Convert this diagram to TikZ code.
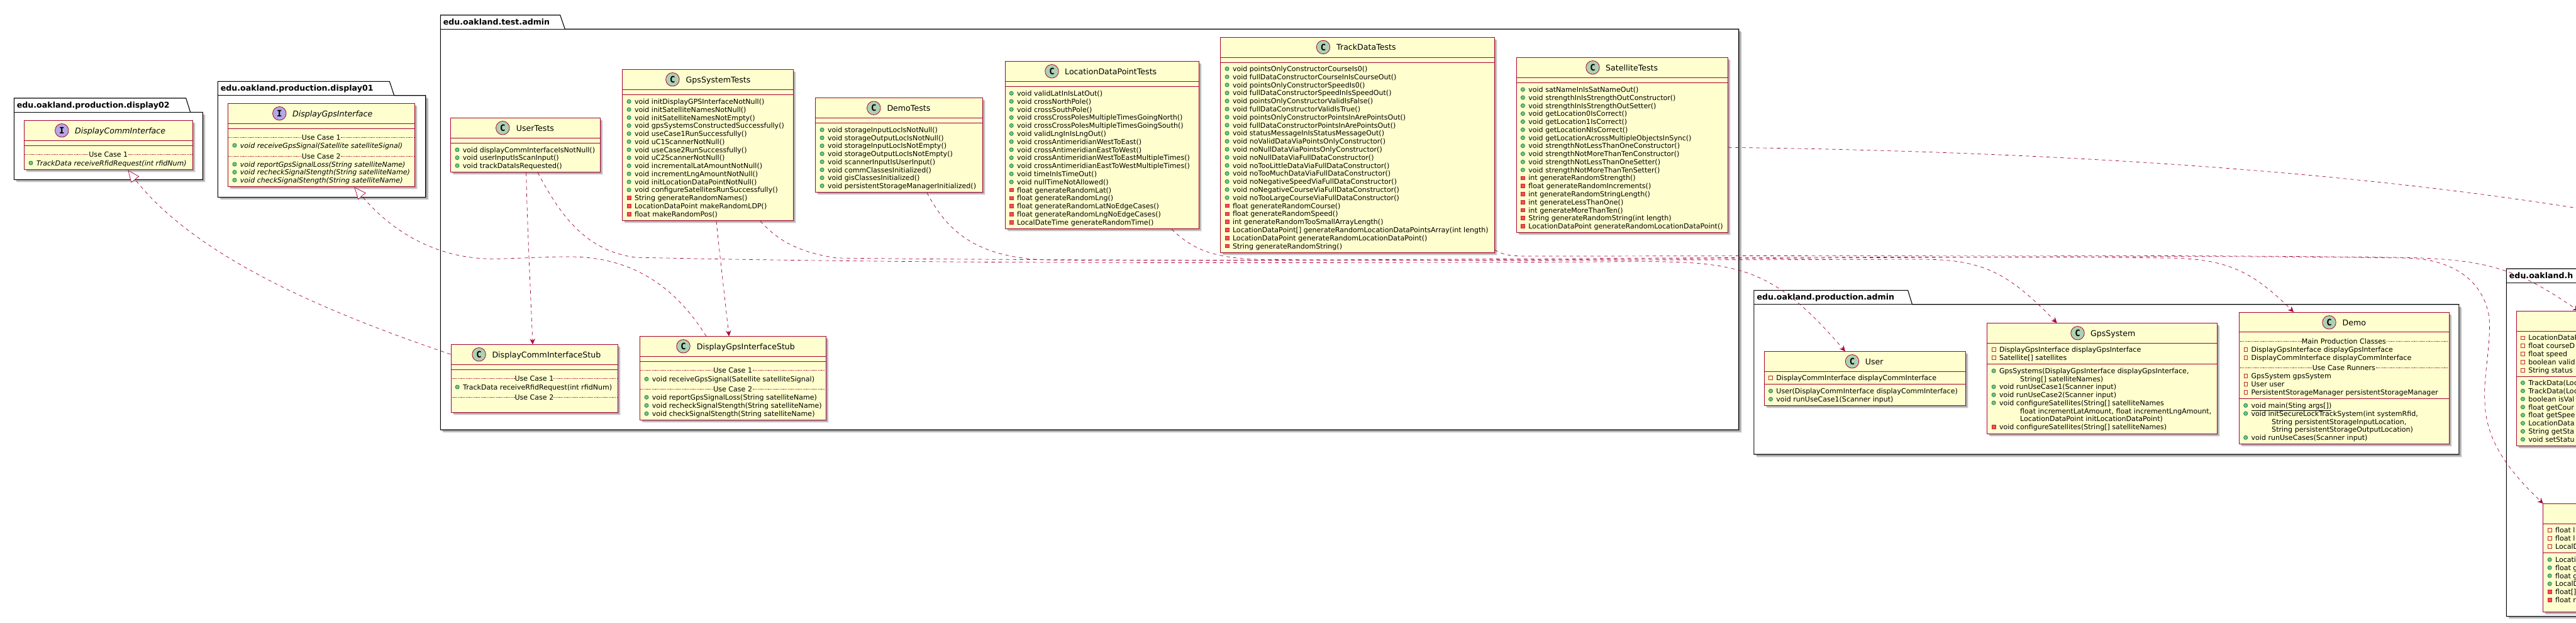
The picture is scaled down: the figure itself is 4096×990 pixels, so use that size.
\documentclass[tikz,border=0pt]{standalone}
\usepackage{fontspec}
\usetikzlibrary{arrows.meta}
\setmainfont{DejaVu Sans}
\newfontfamily\spotfont{DejaVu Sans Mono}
\definecolor{umlline}{HTML}{A80036}
\definecolor{umlfill}{HTML}{FEFECE}
\definecolor{spotc}{HTML}{ADD1B2}
\definecolor{spoti}{HTML}{B4A7E5}
\definecolor{pubfill}{HTML}{84BE84}
\definecolor{publine}{HTML}{038048}
\definecolor{prifill}{HTML}{F24D5C}
\definecolor{priline}{HTML}{C82930}
\newcommand{\rowfont}{\fontsize{11.06}{13}\selectfont}
\tikzset{
  classrect/.style={draw=umlline,fill=umlfill,line width=1pt,rectangle,inner sep=0pt,anchor=north west},
  sect/.style={draw=umlline,line width=1pt},
  rowt/.style={anchor=base west,inner sep=0pt,font=\rowfont,text=black},
  titlet/.style={anchor=base west,inner sep=0pt,font=\fontsize{12.6}{14}\selectfont,text=black},
  pkgt/.style={anchor=base west,inner sep=0pt,font=\fontsize{12.6}{14}\selectfont\bfseries,text=black},
  sept/.style={anchor=base,inner sep=0pt,fill=umlfill,font=\rowfont,text=black},
  spotn/.style={circle,draw=umlline,line width=.8pt,minimum size=21.5pt,inner sep=0pt,font=\spotfont\fontsize{14}{14}\selectfont\bfseries,text=black},
  dep/.style={draw=umlline,line width=.7pt,dash pattern=on 5.5pt off 5.5pt},
  arrowdep/.style={dep,-{Stealth[length=9pt,width=8.5pt,inset=3pt,fill=umlline]}},
  realdep/.style={dep,-{Triangle[open,length=19pt,width=16pt,fill=white]}}
}
\newcounter{rw}
\newcommand{\cbox}[8]{% name,L,T,R,B,H,S,kind
  \gdef\cl{#2}\gdef\cr{#4}%
  \foreach \o/\a in {5/.08,4/.12,3/.16}{\fill[black,opacity=\a] (#2+\o,#3+\o) rectangle (#4+\o,#5+\o);}%
  \pgfmathsetmacro\cw{#4-#2}\pgfmathsetmacro\ch{#5-#3}%
  \node[classrect,minimum width=\cw pt,minimum height=\ch pt,name=#1] at (#2,#3) {};%
  \draw[sect] (#2,#6) -- (#4,#6);%
  \draw[sect] (#2,#7) -- (#4,#7);%
}
\newcommand{\spot}[5]{% name,x,y,color,letter
  \node[spotn,fill=#4,name=#1] at (#2,#3) {#5};}
\newcommand{\ttl}[4]{\node[titlet,name=#1] at (#2,#3+5) {#4};}
\newcommand{\rows}[2]{\gdef\ry{#1}\gdef\rs{#2}}
\newcommand{\adv}{\pgfmathparse{\ry+\rs}\xdef\ry{\pgfmathresult}}
\newcommand{\rowtxt}[2]{\stepcounter{rw}\node[rowt,name=r\therw] at (\cl+#1,\ry+4.2) {#2};}
\newcommand{\pub}[1]{\draw[fill=pubfill,draw=publine,line width=.7pt] (\cl+10.7,\ry) circle[radius=3.1pt];\rowtxt{19.4}{#1}\adv}
\newcommand{\pri}[1]{\draw[fill=prifill,draw=priline,line width=.7pt] (\cl+7.9,\ry-2.8) rectangle (\cl+13.5,\ry+2.8);\rowtxt{19.4}{#1}\adv}
\newcommand{\fld}[1]{\draw[draw=priline,line width=.7pt] (\cl+7.9,\ry-2.8) rectangle (\cl+13.5,\ry+2.8);\rowtxt{19.4}{#1}\adv}
\newcommand{\ind}[2]{\rowtxt{#1}{#2}\adv}
\newcommand{\usep}[2]{% y, text
  \draw[draw=umlline,line width=.5pt,dash pattern=on 1.2pt off 1.2pt] (\cl,#1) -- (\cr,#1);
  \stepcounter{rw}\pgfmathsetmacro\cm{(\cl+\cr)/2}%
  \node[sept,name=r\therw] at (\cm,#1+4.2) {#2};}
\newcommand{\pkg}[9]{% name,L,TT,TB,R,B,tab1,tab2,label
  \foreach \o/\a in {5/.08,4/.12,3/.16}{\fill[black,opacity=\a,shift={(\o pt,-\o pt)}] (#2,#4) -- (#5,#4) -- (#5,#6) -- (#2,#6) -- cycle;}%
  \draw[black,line width=1.1pt,fill=white] (#2,#6) -- (#2,#3) -- (#7,#3) -- (#8,#4) -- (#5,#4) -- (#5,#6) -- cycle;%
  \draw[black,line width=1.1pt] (#2,#4) -- (#8,#4);%
  \node[pkgt,name=#1] at (#2+4.4,#4-7.2) {#9};}
\begin{document}
\begin{tikzpicture}[x=1pt,y=-1pt]
\useasboundingbox (0,0) rectangle (4096,990);
\fill[white] (0,0) rectangle (4096,990);
\begin{scope}
\clip (0,0) rectangle (4096,990);
% packages
\pkg{pDisplay02}{22.3}{156}{178.3}{322.3}{285.3}{295.7}{302.7}{edu.oakland.production.display02}
\pkg{pDisplay01}{346.3}{129.3}{151.7}{676.7}{313.3}{619.3}{626.7}{edu.oakland.production.display01}
\pkg{pTest}{700.3}{24}{46.3}{2764.7}{683}{890.7}{898.3}{edu.oakland.test.admin}
\pkg{pAdmin}{2788.9}{461.3}{483.7}{3909.8}{722}{3033.6}{3040.5}{edu.oakland.production.admin}
\pkg{pHelper}{3985.3}{427}{449.3}{4400}{979.3}{4300}{4307}{edu.oakland.h}

% DisplayCommInterface
\cbox{DisplayCommInterface}{38.3}{191.3}{306.3}{269.3}{223.3}{231.3}{i}
\spot{sDCI}{98.3}{207.3}{spoti}{I}
\ttl{tDCI}{119}{207.3}{\itshape DisplayCommInterface}
\usep{245.3}{Use Case 1}
\rows{259}{12.8}
\pub{\itshape TrackData receiveRfidRequest(int rfidNum)}

% DisplayGpsInterface
\cbox{DisplayGpsInterface}{362.3}{164.3}{659.3}{296.3}{196.7}{204.7}{i}
\spot{sDGI}{444.3}{180.3}{spoti}{I}
\ttl{tDGI}{465}{180.3}{\itshape DisplayGpsInterface}
\usep{218.3}{Use Case 1}
\rows{231}{12.8}
\pub{\itshape void receiveGpsSignal(Satellite satelliteSignal)}
\usep{248}{Use Case 2}
\rows{261}{12.6}
\pub{\itshape void reportGpsSignalLoss(String satelliteName)}
\pub{\itshape void recheckSignalStength(String satelliteName)}
\pub{\itshape void checkSignalStength(String satelliteName)}

% UserTests
\cbox{UserTests}{716.3}{187.3}{954.4}{273.3}{219}{227.3}{c}
\spot{sUT}{799.3}{203.3}{spotc}{C}
\ttl{tUT}{820.7}{203.3}{UserTests}
\rows{238}{12.6}
\pub{void displayCommInterfaceIsNotNull()}
\pub{void userInputIsScanInput()}
\pub{void trackDataIsRequested()}

% GpsSystemTests
\cbox{GpsSystemTests}{989.4}{110.3}{1261.4}{350.3}{142.3}{150.3}{c}
\spot{sGT}{1069.4}{126.3}{spotc}{C}
\ttl{tGT}{1090.5}{126.3}{GpsSystemTests}
\rows{161.3}{12.77}
\pub{void initDisplayGPSInterfaceNotNull()}
\pub{void initSatelliteNamesNotNull()}
\pub{void initSatelliteNamesNotEmpty()}
\pub{void gpsSystemsConstructedSuccessfully()}
\pub{void useCase1RunSuccessfully()}
\pub{void uC1ScannerNotNull()}
\pub{void useCase2RunSuccessfully()}
\pub{void uC2ScannerNotNull()}
\pub{void incrementalLatAmountNotNull()}
\pub{void incrementLngAmountNotNull()}
\pub{void initLocationDataPointNotNull()}
\pub{void configureSatellitesRunSuccessfully()}
\pri{String generateRandomNames()}
\pri{LocationDataPoint makeRandomLDP()}
\pri{float makeRandomPos()}

% DemoTests
\cbox{DemoTests}{1296.4}{155.3}{1561.5}{305.3}{187.3}{195.3}{c}
\spot{sDT}{1389.3}{171.7}{spotc}{C}
\ttl{tDT}{1410.3}{171.7}{DemoTests}
\rows{206.3}{12.71}
\pub{void storageInputLocIsNotNull()}
\pub{void storageOutputLocIsNotNull()}
\pub{void storageInputLocIsNotEmpty()}
\pub{void storageOutputLocIsNotEmpty()}
\pub{void scannerInputIsUserInput()}
\pub{void commClassesInitialized()}
\pub{void gisClassesInitialized()}
\pub{void persistentStorageManagerInitialized()}

% LocationDataPointTests
\cbox{LocationDataPointTests}{1597.5}{97.3}{1905.5}{363.3}{129.3}{137.3}{c}
\spot{sLT}{1672.5}{113.3}{spotc}{C}
\ttl{tLT}{1693}{113.3}{LocationDataPointTests}
\rows{148.3}{12.8}
\pub{void validLatInIsLatOut()}
\pub{void crossNorthPole()}
\pub{void crossSouthPole()}
\pub{void crossCrossPolesMultipleTimesGoingNorth()}
\pub{void crossCrossPolesMultipleTimesGoingSouth()}
\pub{void validLngInIsLngOut()}
\pub{void crossAntimeridianWestToEast()}
\pub{void crossAntimeridianEastToWest()}
\pub{void crossAntimeridianWestToEastMultipleTimes()}
\pub{void crossAntimeridianEastToWestMultipleTimes()}
\pub{void timeInIsTimeOut()}
\pub{void nullTimeNotAllowed()}
\pri{float generateRandomLat()}
\pri{float generateRandomLng()}
\pri{float generateRandomLatNoEdgeCases()}
\pri{float generateRandomLngNoEdgeCases()}
\pri{LocalDateTime generateRandomTime()}

% TrackDataTests
\cbox{TrackDataTests}{1940.4}{59.3}{2375.6}{401}{91}{99.3}{c}
\spot{sTT}{2104}{75}{spotc}{C}
\ttl{tTT}{2125}{75}{TrackDataTests}
\rows{109.3}{12.8}
\pub{void pointsOnlyConstructorCourseIs0()}
\pub{void fullDataConstructorCourseInIsCourseOut()}
\pub{void pointsOnlyConstructorSpeedIs0()}
\pub{void fullDataConstructorSpeedInIsSpeedOut()}
\pub{void pointsOnlyConstructorValidIsFalse()}
\pub{void fullDataConstructorValidIsTrue()}
\pub{void pointsOnlyConstructorPointsInArePointsOut()}
\pub{void fullDataConstructorPointsInArePointsOut()}
\pub{void statusMessageInIsStatusMessageOut()}
\pub{void noValidDataViaPointsOnlyConstructor()}
\pub{void noNullDataViaPointsOnlyConstructor()}
\pub{void noNullDataViaFullDataConstructor()}
\pub{void noTooLittleDataViaFullDataConstructor()}
\pub{void noTooMuchDataViaFullDataConstructor()}
\pub{void noNegativeSpeedViaFullDataConstructor()}
\pub{void noNegativeCourseViaFullDataConstructor()}
\pub{void noTooLargeCourseViaFullDataConstructor()}
\pri{float generateRandomCourse()}
\pri{float generateRandomSpeed()}
\pri{int generateRandomTooSmallArrayLength()}
\pri{LocationDataPoint[] generateRandomLocationDataPointsArray(int length)}
\pri{LocationDataPoint generateRandomLocationDataPoint()}
\pri{String generateRandomString()}

% SatelliteTests
\cbox{SatelliteTests}{2410.7}{91.3}{2747.4}{369.3}{123.3}{131.7}{c}
\spot{sST}{2532.5}{107.3}{spotc}{C}
\ttl{tST}{2553}{107.3}{SatelliteTests}
\rows{142.3}{12.77}
\pub{void satNameInIsSatNameOut()}
\pub{void strengthInIsStrengthOutConstructor()}
\pub{void strengthInIsStrengthOutSetter()}
\pub{void getLocation0IsCorrect()}
\pub{void getLocation1IsCorrect()}
\pub{void getLocationNIsCorrect()}
\pub{void getLocationAcrossMultipleObjectsInSync()}
\pub{void strengthNotLessThanOneConstructor()}
\pub{void strengthNotMoreThanTenConstructor()}
\pub{void strengthNotLessThanOneSetter()}
\pub{void strengthNotMoreThanTenSetter()}
\pri{int generateRandomStrength()}
\pri{float generateRandomIncrements()}
\pri{int generateRandomStringLength()}
\pri{int generateLessThanOne()}
\pri{int generateMoreThanTen()}
\pri{String generateRandomString(int length)}
\pri{LocationDataPoint generateRandomLocationDataPoint()}

% DisplayCommInterfaceStub
\cbox{DisplayCommInterfaceStub}{716.5}{547.3}{982.4}{654.7}{579}{587.3}{c}
\spot{sCS}{761.6}{563.3}{spotc}{C}
\ttl{tCS}{782.3}{563.3}{DisplayCommInterfaceStub}
\usep{601.3}{Use Case 1}
\rows{615}{12.8}
\pub{TrackData receiveRfidRequest(int rfidNum)}
\usep{631.3}{Use Case 2}

% DisplayGpsInterfaceStub
\cbox{DisplayGpsInterfaceStub}{1017.3}{534.3}{1313}{667}{566}{574}{c}
\spot{sGS}{1086.5}{550.3}{spotc}{C}
\ttl{tGS}{1107.6}{550.3}{DisplayGpsInterfaceStub}
\usep{588.3}{Use Case 1}
\rows{602.3}{12.8}
\pub{void receiveGpsSignal(Satellite satelliteSignal)}
\usep{618.3}{Use Case 2}
\rows{631.3}{13}
\pub{void reportGpsSignalLoss(String satelliteName)}
\pub{void recheckSignalStength(String satelliteName)}
\pub{void checkSignalStength(String satelliteName)}

% User
\cbox{User}{2804.8}{558.3}{3124.5}{644.3}{590}{610.3}{c}
\spot{sU}{2945}{574.3}{spotc}{C}
\ttl{tU}{2965.6}{574.3}{User}
\rows{600.3}{12.8}
\fld{DisplayCommInterface displayCommInterface}
\rows{621.3}{13}
\pub{User(DisplayCommInterface displayCommInterface)}
\pub{void runUseCase1(Scanner input)}

% GpsSystem
\cbox{GpsSystem}{3159.4}{513.3}{3524.5}{689.3}{545}{578.3}{c}
\spot{sG}{3303.5}{529.3}{spotc}{C}
\ttl{tG}{3323.8}{529.3}{GpsSystem}
\rows{555.3}{13}
\fld{DisplayGpsInterface displayGpsInterface}
\fld{Satellite[] satellites}
\rows{589.3}{12.7}
\pub{GpsSystems(DisplayGpsInterface displayGpsInterface,}
\ind{52.6}{String[] satelliteNames)}
\pub{void runUseCase1(Scanner input)}
\pub{void runUseCase2(Scanner input)}
\pub{void configureSatellites(String[] satelliteNames}
\ind{52.6}{float incrementLatAmount, float incrementLngAmount,}
\ind{52.6}{LocationDataPoint initLocationDataPoint)}
\pri{void configureSatellites(String[] satelliteNames)}

% Demo
\cbox{Demo}{3560}{496}{3893.7}{705}{527.7}{633.3}{c}
\spot{sD}{3703.5}{512.3}{spotc}{C}
\ttl{tD}{3724.5}{512.3}{Demo}
\usep{542.3}{Main Production Classes}
\rows{555.3}{13}
\fld{DisplayGpsInterface displayGpsInterface}
\fld{DisplayCommInterface displayCommInterface}
\usep{584.3}{Use Case Runners}
\rows{597.3}{13}
\fld{GpsSystem gpsSystem}
\fld{User user}
\fld{PersistentStorageManager persistentStorageManager}
\rows{644.3}{12.75}
\pub{\underline{void main(Sting args[])}}
\pub{void initSecureLockTrackSystem(int systemRfid,}
\ind{52}{String persistentStorageInputLocation,}
\ind{52}{String persistentStorageOutputLocation)}
\pub{void runUseCases(Scanner input)}

% TrackData (runs past the right edge)
\cbox{TrackData}{4000.7}{494}{4400}{708.3}{526}{598.3}{c}
\rows{536.7}{12.9}
\fld{LocationDataP}
\fld{float courseD}
\fld{float speed}
\fld{boolean valid}
\fld{String status}
\rows{608.3}{12.85}
\pub{TrackData(Loc}
\pub{TrackData(Loc}
\pub{boolean isVal}
\pub{float getCour}
\pub{float getSpee}
\pub{LocationData}
\pub{String getSta}
\pub{void setStatu}

% LocationDataPoint (runs past the right edge)
\cbox{LocationDataPoint}{4043.4}{800.3}{4400}{972.3}{832.3}{878.3}{c}
\rows{842.3}{13}
\fld{float l}
\fld{float l}
\fld{LocalD}
\rows{889.3}{12.8}
\pub{Locati}
\pub{float g}
\pub{float g}
\pub{LocalD}
\pri{float[]}
\pri{float r}

% connectors
\coordinate (satelliteEnd) at (4130,336);
\draw[realdep] ([yshift=-15.7pt]DisplayCommInterfaceStub.north west)
  .. controls (560,510) and (320,420) .. ([xshift=165pt]DisplayCommInterface.south west);
\draw[realdep] ([xshift=105.7pt]DisplayGpsInterfaceStub.north west)
  .. controls (1070,450) and (1000,408) .. (905,408)
  .. controls (870,408) and (840,410) .. (800,411)
  .. controls (700,416) and (625,370) .. ([xshift=201pt]DisplayGpsInterface.south west);
\draw[arrowdep] ([xshift=120.4pt]UserTests.south west)
  .. controls (838,350) and (843,450) .. ([xshift=130.5pt]DisplayCommInterfaceStub.north west);
\draw[arrowdep] ([xshift=138.7pt]UserTests.south west)
  .. controls (885,330) and (925,398) .. (1010,409)
  .. controls (1500,420) and (2100,418) .. (2550,416)
  .. controls (2760,414) and (2810,415) .. ([xshift=129.2pt]User.north west);
\draw[arrowdep] ([xshift=149.6pt]GpsSystemTests.south west)
  .. controls (1145,410) and (1152,470) .. ([xshift=141.9pt]DisplayGpsInterfaceStub.north west);
\draw[arrowdep] ([xshift=219.6pt]GpsSystemTests.south west)
  .. controls (1235,380) and (1265,400) .. (1330,410)
  .. controls (1800,416) and (2700,413) .. (3050,412)
  .. controls (3150,412) and (3190,430) .. ([xshift=111.2pt]GpsSystem.north west);
\draw[arrowdep] ([xshift=177.5pt]DemoTests.south west)
  .. controls (1510,375) and (1560,408) .. (1660,413)
  .. controls (2000,417) and (3000,404) .. (3440,410)
  .. controls (3540,410) and (3580,430) .. ([xshift=87pt]Demo.north west);
\draw[arrowdep] ([xshift=265.5pt]LocationDataPointTests.south west)
  .. controls (1895,395) and (1925,408) .. (1990,412)
  .. controls (2400,418) and (3300,402) .. (3820,410)
  .. controls (3905,410) and (3950,450) .. (3958,505)
  .. controls (3961,550) and (3948,600) .. (3951,640)
  .. controls (3953,690) and (3975,735) .. ([xshift=0.4pt]LocationDataPoint.north west);
\draw[arrowdep] ([yshift=5pt]TrackDataTests.south east)
  .. controls (2395,408) and (2410,407) .. (2450,407)
  .. controls (2800,407) and (3400,404) .. (3800,409)
  .. controls (3950,410) and (4000,425) .. ([xshift=99.3pt]TrackData.north west);
\draw[dep] ([yshift=136pt]SatelliteTests.south east)
  .. controls (3200,240) and (3700,265) .. (satelliteEnd);
\end{scope}
\end{tikzpicture}
\end{document}
